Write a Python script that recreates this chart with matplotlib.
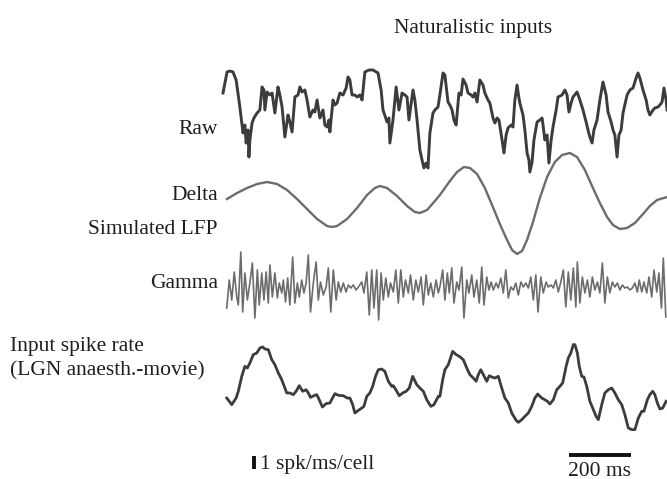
import numpy as np
import matplotlib
matplotlib.use("Agg")
import matplotlib.pyplot as plt

# ── traces (time in ms) ──────────────────────────────────────────────────────
raw_t = [0, 13, 22, 32, 42, 54, 64, 70, 74, 80, 83, 86, 93, 99, 109, 118, 125, 131, 134, 141,
         150, 157, 166, 176, 182, 189, 198, 208, 214, 221, 230, 240, 246, 253, 262, 269, 278, 288,
         294, 301, 310, 320, 326, 333, 339, 342, 352, 358, 365, 374, 384, 394, 400, 406, 413, 422,
         429, 438, 445, 454, 467, 480, 496, 506, 512, 525, 531, 534, 544, 554, 563, 573, 582, 589,
         595, 608, 614, 621, 630, 637, 643, 650, 656, 662, 672, 678, 688, 694, 704, 710, 720, 726,
         733, 739, 746, 755, 762, 768, 778, 784, 794, 800, 806, 813, 822, 832, 838, 848, 854, 864,
         870, 877, 883, 893, 899, 906, 912, 922, 928, 934, 941, 947, 950, 960, 966, 973, 979, 982,
         989, 995, 1005, 1014, 1021, 1024, 1030, 1037, 1043, 1050, 1056, 1066, 1072, 1085, 1094,
         1101, 1107, 1114, 1120, 1133, 1142, 1152, 1162, 1168, 1174, 1181, 1187, 1197, 1206, 1216,
         1226, 1232, 1242, 1248, 1254, 1261, 1267, 1274, 1280, 1293, 1302, 1312, 1322, 1328, 1334,
         1344, 1354, 1360, 1366, 1376, 1382, 1392, 1398, 1405, 1411, 1418, 1421]
raw_v = [27, 48, 49, 48, 40, 13, -13, -5, -23, -10, -37, -20, -3, 2, 7, 10, 33, 30, 10, 28,
         25, 27, 7, 33, 25, 13, -17, 5, -2, -12, 23, 25, 33, 28, 30, 20, 3, 10,
         8, 20, 2, 10, -5, -7, 0, -12, 20, 15, 17, 27, 25, 32, 43, 40, 25, 25,
         23, 25, 20, 48, 50, 50, 47, 30, 10, -2, 2, -23, 0, 33, 10, 27, 25, 23,
         0, 30, 20, 0, -30, -40, -48, -43, -48, -13, 7, 10, 13, 25, 47, 45, 18, 15,
         10, 0, -5, 27, 25, 41, 35, 27, 25, 23, 27, 18, 40, 35, 27, 20, 17, 2,
         -3, 2, 0, -20, -33, -15, -8, -5, -7, 20, 35, 22, 17, 5, -10, -33, -40, -52,
         -42, -20, -2, 0, 2, -5, -20, -15, -43, -20, -7, 10, 23, 25, 30,
         25, 8, 17, 23, 28, 20, 10, -2, -10, -17, -23, -10, 0, 20, 38,
         25, 8, -2, -10, -15, -37, -15, -10, 7, 25, 30, 32, 42, 47, 42,
         30, 20, 10, 5, 10, 12, 13, 15, 18, 32, 20, 10]

delta_t = [13, 45, 77, 109, 141, 173, 205, 237, 269, 301, 333, 349, 365, 397, 429, 461, 486,
           502, 525, 557, 589, 614, 630, 653, 678, 694, 726, 749, 771, 790, 813, 838, 861, 886,
           909, 925, 941, 957, 973, 992, 1014, 1037, 1062, 1085, 1110, 1133, 1158, 1181, 1206,
           1229, 1248, 1270, 1293, 1318, 1344, 1366, 1389, 1421]
delta_v = [6, 12, 17, 21, 23, 21, 15, 6, -4, -14, -21, -22, -21, -14, -3, 10, 17,
           19, 17, 9, -1, -7, -8, -5, 4, 10, 24, 33, 38, 37, 31, 17, 0, -19,
           -35, -45, -49, -46, -35, -17, 7, 28, 43, 50, 52, 48, 35, 19, 2,
           -12, -20, -24, -23, -18, -9, -1, 5, 8]

gamma_t = [12, 20, 28, 36, 44, 49, 57, 63, 70, 78, 86, 94, 102, 110, 116, 124, 131, 138, 145,
           150, 158, 166, 174, 180, 188, 193, 200, 207, 214, 223, 230, 238, 244, 252, 259, 266,
           273, 280, 289, 298, 305, 312, 321, 330, 337, 345, 353, 362, 369, 377, 385, 394, 401,
           409, 417, 426, 433, 444, 451, 460, 468, 476, 483, 492, 498, 506, 513, 521, 529, 536,
           545, 553, 561, 569, 577, 584, 593, 600, 609, 617, 625, 634, 641, 650, 657, 665, 673,
           682, 689, 694, 703, 710, 718, 724, 732, 739, 748, 755, 764, 771, 780, 787, 796, 803,
           812, 820, 828, 835, 844, 851, 858, 865, 874, 881, 889, 897, 905, 913, 921, 929, 937,
           945, 953, 961, 969, 977, 985, 993, 1001, 1008, 1017, 1025, 1034, 1041, 1050, 1057,
           1065, 1073, 1081, 1089, 1097, 1105, 1113, 1121, 1129, 1134, 1142, 1150, 1158, 1166,
           1174, 1182, 1190, 1198, 1206, 1214, 1222, 1230, 1238, 1246, 1254, 1262, 1270, 1278,
           1286, 1294, 1302, 1310, 1318, 1326, 1332, 1340, 1347, 1356, 1363, 1372, 1379, 1388,
           1395, 1403, 1409, 1417]
gamma_v = [-23, 5, -15, 13, -12, -20, 33, -27, 12, -15, 2, 22, -33, 15, -20, 12, -15, 13, -18,
           20, -12, 12, -13, 2, -8, 5, -17, 7, -20, 28, -18, 2, -12, 5, -8, 2,
           30, -27, 2, 23, -15, 3, -10, -2, 17, -27, 15, -15, 3, -7, 2, -7, 0,
           -3, 0, -5, -2, 3, -8, 13, -30, 15, -23, 15, -35, 12, -15, 7, -12, 2,
           -7, 15, -18, 15, -12, 5, -8, 10, -15, 5, -7, 8, -20, 10, -10, 2, -12,
           5, -8, -2, 15, -15, 12, -8, 17, -18, 3, -5, 18, -33, 5, -8, 10, -12,
           5, -18, 18, -20, 8, -5, 3, -5, 2, -3, 7, -8, 15, -13, -2, -5, 2,
           -10, 3, -2, 2, -3, 8, -15, 10, -27, 8, -8, 3, -2, 0, -3,
           5, -7, 3, 15, -22, 13, -15, 17, -22, 23, -18, 8, -8, 5,
           -12, 8, -5, 3, -8, 22, -18, 8, -8, 3, -2, 2, -5, 0,
           -3, -2, -5, -3, 2, -7, 5, -7, 3, -8, 8, -12, 15, -7,
           12, -23, 27, -32]

# LGN input rate, spk/ms/cell
rate_t = [12, 28, 42, 49, 60, 70, 78, 86, 97, 108, 118, 127, 134, 145, 156, 166, 177, 188, 198,
          204, 214, 225, 234, 244, 255, 266, 273, 280, 291, 300, 308, 318, 330, 342, 358, 369,
          385, 398, 406, 415, 422, 433, 444, 451, 460, 470, 479, 488, 497, 508, 518, 529, 540,
          545, 556, 564, 575, 586, 596, 607, 620, 630, 641, 652, 665, 675, 689, 694, 703, 710,
          721, 735, 746, 756, 769, 780, 790, 801, 810, 817, 825, 833, 844, 852, 860, 870, 881,
          892, 902, 913, 924, 938, 945, 956, 966, 977, 988, 998, 1007, 1020, 1030, 1038, 1046,
          1057, 1068, 1078, 1087, 1098, 1105, 1113, 1121, 1126, 1134, 1140, 1148, 1155, 1164,
          1174, 1185, 1194, 1201, 1212, 1222, 1233, 1244, 1254, 1265, 1276, 1286, 1297, 1308,
          1318, 1329, 1340, 1347, 1358, 1366, 1375, 1382, 1390, 1398, 1407, 1418]
rate_v = [2.92, 2.41, 2.92, 3.44, 4.59, 5.36, 5.23, 5.62, 6.26, 6.38, 6.77, 6.85, 6.69, 6.64,
          5.87, 5.49, 4.85, 4.33, 3.69, 3.31, 3.31, 3.18, 3.44, 3.87, 3.44, 3.56, 3.31, 2.97,
          3.10, 3.18, 2.79, 2.23, 2.49, 2.54, 3.26, 3.13, 3.10, 2.92, 2.92, 2.41, 1.77, 1.97,
          2.15, 2.28, 3.05, 3.31, 3.82, 4.59, 5.10, 5.15, 4.97, 4.21, 3.82, 3.87, 3.44, 3.10,
          3.31, 3.44, 3.69, 4.59, 3.95, 3.69, 3.44, 2.79, 2.28, 2.41, 3.05, 3.05, 4.33, 5.10,
          5.49, 6.51, 6.26, 6.13, 5.87, 5.23, 4.72, 4.46, 4.21, 4.72, 5.10, 4.72, 4.21, 4.64,
          4.54, 4.46, 4.59, 3.69, 2.92, 2.54, 1.77, 1.21, 1.05, 1.26, 1.51, 1.77, 2.28, 2.92,
          3.23, 2.92, 2.79, 2.67, 2.46, 2.79, 3.56, 3.82, 4.08, 5.36, 6.00, 6.38, 7.03, 7.03,
          6.38, 5.36, 4.59, 4.54, 3.82, 2.67, 2.03, 1.51, 1.26, 2.41, 3.31, 3.56, 3.69, 3.31,
          2.79, 2.41, 1.64, 0.62, 0.49, 0.49, 1.38, 1.90, 1.90, 2.79, 3.18, 3.44, 3.18, 2.54,
          2.08, 2.15, 2.67]

SCALE_MS = 200      # time scale bar
SCALE_RATE = 1      # rate scale bar, spk/ms/cell

DARK = "#3c3c3c"
GREY = "#6c6c6c"
TXT = "#1e1e1e"

plt.rcParams.update({
    "font.family": ["Liberation Serif", "DejaVu Serif"],
    "font.size": 15.5,
    "text.color": TXT,
})

W, H = 667, 479
fig = plt.figure(figsize=(W / 100, H / 100), dpi=100)
ax = fig.add_axes([0, 0, 1, 1])
MS_PER_PX = 3.2
ax.set_xlim(-223 * MS_PER_PX, (W - 223) * MS_PER_PX)
ax.set_ylim(0, H)
ax.axis("off")

RATE_GAIN = 13.0    # vertical units per spk/ms/cell

ax.plot(raw_t, np.array(raw_v) + 359, color=DARK, lw=2.1, solid_joinstyle="round")
ax.plot(delta_t, np.array(delta_v) + 274, color=GREY, lw=1.7)
ax.plot(gamma_t, np.array(gamma_v) + 194, color=GREY, lw=1.2)
ax.plot(rate_t, np.array(rate_v) * RATE_GAIN + 43, color=DARK, lw=2.0, solid_joinstyle="round")

# scale bars
bar_t0 = 1107
ax.plot([bar_t0, bar_t0 + SCALE_MS], [24, 24], color="#111111", lw=2.8, solid_capstyle="butt")
ax.plot([99, 99], [10, 10 + SCALE_RATE * RATE_GAIN], color="#111111", lw=2.8, solid_capstyle="butt")


def label(x, y, s, ha="left", **kw):
    fig.text(x / W, 1 - y / H, s, ha=ha, va="center", **kw)


label(473, 29, "Naturalistic inputs", ha="center")
label(218, 130, "Raw", ha="right")
label(218, 195, "Delta", ha="right")
label(218, 230, "Simulated LFP", ha="right")
label(218, 284, "Gamma", ha="right")
label(10, 346, "Input spike rate")
label(10, 371, "(LGN anaesth.-movie)")
label(260, 464, "1 spk/ms/cell")
label(600, 471, "200 ms", ha="center")

fig.savefig("out.png", dpi=100)
